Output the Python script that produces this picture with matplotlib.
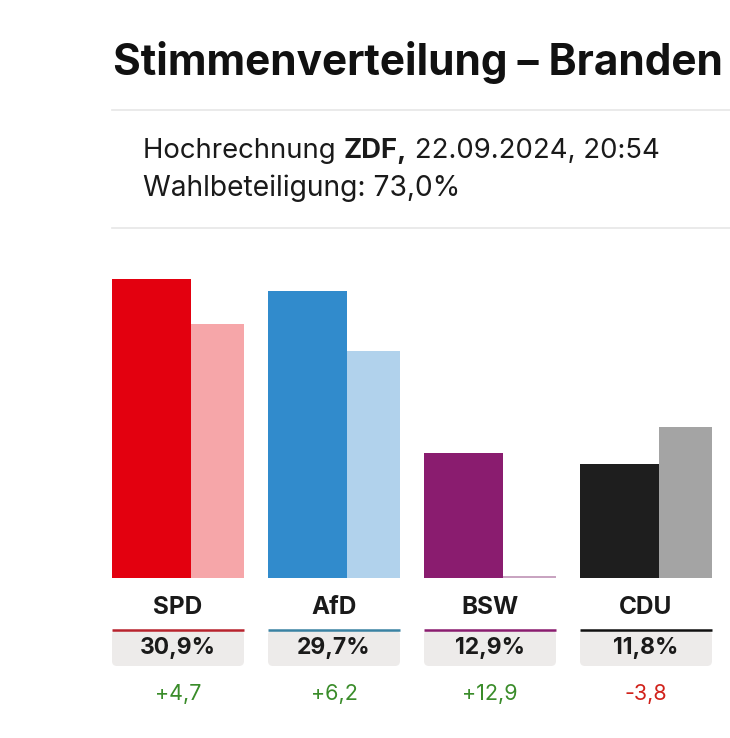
import matplotlib.pyplot as plt
from matplotlib.patches import FancyBboxPatch

# ==========================================
# Data
# ==========================================
parties = ['SPD', 'AfD', 'BSW', 'CDU']
result_2024 = [30.9, 29.7, 12.9, 11.8]
result_2019 = [26.2, 23.5, 0.0, 15.6]
changes = ['+4,7', '+6,2', '+12,9', '-3,8']
pct_labels = ['30,9%', '29,7%', '12,9%', '11,8%']

colors_now = ['#E3000F', '#318BCC', '#8A1C6F', '#1E1E1E']
colors_prev = ['#F6A6A9', '#B1D2EC', '#C9A4C1', '#A4A4A4']
colors_line = ['#B8232D', '#3A82A3', '#8A1C6F', '#111111']

FONT = ['Inter', 'DejaVu Sans']
plt.rcParams['font.family'] = FONT

W, H = 730, 738
fig = plt.figure(figsize=(W / 100, H / 100), dpi=100)

# --- bar axes (pixel geometry: x 112..712, baseline y=578) ---
base_y = 578
top_y = 250
px_per_pct = 9.68
ax = fig.add_axes([112 / W, (H - base_y) / H, 600 / W, (base_y - top_y) / H])
ax.set_xlim(0, 600)
ax.set_ylim(0, (base_y - top_y) / px_per_pct)
ax.axis('off')

group_step = 156
w_now, w_prev = 79, 53
x_now = [i * group_step for i in range(len(parties))]
x_prev = [x + w_now for x in x_now]
ax.bar(x_now, result_2024, width=w_now, align='edge', color=colors_now, linewidth=0)
# keep a hairline for parties without previous result
prev_vals = [v if v > 0 else 0.2 for v in result_2019]
ax.bar(x_prev, prev_vals, width=w_prev, align='edge', color=colors_prev, linewidth=0)

# --- overlay in pixel coords ---
ov = fig.add_axes([0, 0, 1, 1])
ov.set_xlim(0, W)
ov.set_ylim(H, 0)
ov.axis('off')

# title is cut at the right edge in the original, only "Branden" is visible
ov.text(113, 62, 'Stimmenverteilung – Branden', fontsize=30.5, fontweight='bold',
        va='center', ha='left', color='#111111')
ov.plot([112, W], [110, 110], color='#E6E6E6', lw=1.2)
ov.plot([112, W], [228, 228], color='#E6E6E6', lw=1.2)

t1 = ov.text(143, 151, 'Hochrechnung ', fontsize=19.8, va='center', color='#1A1A1A')
t2 = ov.annotate('ZDF,', xy=(1, 0), xycoords=t1, va='bottom', ha='left',
                 fontsize=19.8, fontweight='bold', color='#1A1A1A')
ov.annotate(' 22.09.2024, 20:54', xy=(1, 0), xycoords=t2, va='bottom', ha='left',
            fontsize=19.8, color='#1A1A1A')
ov.text(143, 188, 'Wahlbeteiligung: 73,0%', fontsize=20.3, va='center', color='#1A1A1A')

for i, p in enumerate(parties):
    x0 = 112 + x_now[i]
    xc = x0 + 66
    ov.text(xc, 608, p, fontsize=17.5, fontweight='bold', ha='center', va='center', color='#1A1A1A')
    box = FancyBboxPatch((x0, 630), 132, 36, boxstyle='round,pad=0,rounding_size=5',
                         facecolor='#EDEBEA', edgecolor='none')
    ov.add_patch(box)
    ov.plot([x0, x0 + 132], [630, 630], color=colors_line[i], lw=1.8, solid_capstyle='butt')
    ov.text(xc, 648, pct_labels[i], fontsize=16.5, fontweight='bold', ha='center', va='center',
            color='#1A1A1A')
    chg_color = '#3A8C2A' if changes[i].startswith('+') else '#D1221B'
    ov.text(xc, 694, changes[i], fontsize=15.5, ha='center', va='center', color=chg_color)

fig.savefig('out.png', dpi=100, facecolor='white')
